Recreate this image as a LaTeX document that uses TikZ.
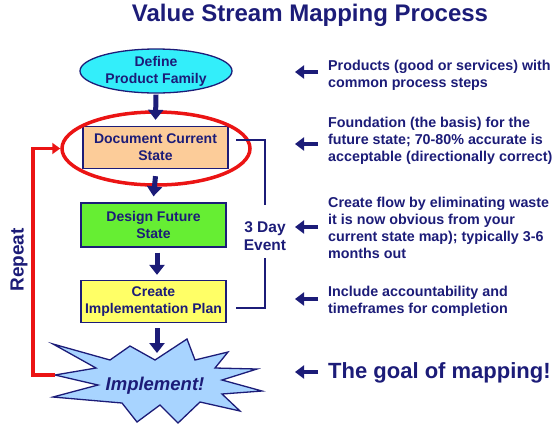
\documentclass[tikz,border=0pt]{standalone}
\usepackage{fontspec}
\setmainfont{Liberation Sans}
\usetikzlibrary{arrows.meta,shapes.geometric}
\definecolor{navy}{RGB}{28,28,120}
\definecolor{cyanfill}{RGB}{51,238,250}
\definecolor{peach}{RGB}{252,204,153}
\definecolor{greenfill}{RGB}{102,238,51}
\definecolor{yellowfill}{RGB}{255,255,102}
\definecolor{burstfill}{RGB}{168,212,255}
\definecolor{redline}{RGB}{235,20,20}
\begin{document}
\begin{tikzpicture}[x=1pt,y=-1pt,
  txt/.style={text=navy,font=\bfseries\fontsize{14}{17}\selectfont},
  stepbox/.style={draw=navy,line width=1.3pt,minimum width=145pt,minimum height=42pt,align=center,inner sep=0pt,txt},
  blockarrow/.style={navy,line width=5pt,-{Triangle[length=10pt,width=15pt]}},
  sidearrow/.style={navy,line width=4.5pt,-{Triangle[length=9pt,width=13pt]}},
  note/.style={text=navy,font=\bfseries\fontsize{14.3}{17}\selectfont,anchor=west,align=left,inner sep=0pt},
  bracket/.style={navy,line width=1.5pt},
  repeatline/.style={redline,line width=3.5pt,-{Triangle[length=8pt,width=11pt]}}
]
\useasboundingbox (0,0) rectangle (553,424);

% title
\node[text=navy,font=\bfseries\fontsize{24}{28}\selectfont] (title) at (310,15) {Value Stream Mapping Process};

% flow
\node[ellipse,draw=navy,line width=1.3pt,fill=cyanfill,minimum width=152pt,minimum height=44pt,inner sep=0pt,align=center,txt] (define) at (156,71) {Define\\Product Family};
\node[stepbox,fill=peach] (doc) at (155.5,147.5) {Document Current\\State};
\node[ellipse,draw=redline,line width=3.5pt,minimum width=188pt,minimum height=73pt,inner sep=0pt] (redell) at (156,148.5) {};
\node[stepbox,fill=greenfill,minimum height=44pt] (design) at (153.5,225) {Design Future\\State};
\node[stepbox,fill=yellowfill] (plan) at (153.5,301.5) {Create\\Implementation Plan};

% starburst
\draw[draw=navy,line width=1.3pt,fill=burstfill,line join=miter]
  (53,344) -- (110,360) -- (130,346) -- (155,360) -- (187,339) -- (195,360)
  -- (228,352) -- (215,368) -- (257,369) -- (222,380) -- (262,391) -- (222,394)
  -- (240,411) -- (200,402) -- (178,423) -- (160,405) -- (137,422) -- (122,403)
  -- (53,397) -- (98,385) -- (55,375) -- (96,368) -- cycle;
\coordinate (dip) at (155,353);
\coordinate (lefttip) at (55,375);
\node[text=navy,font=\bfseries\itshape\fontsize{18.5}{20}\selectfont] (impl) at (155,386) {Implement!};

% down arrows
\draw[blockarrow] ([yshift=-1pt]define.south) -- ([yshift=6pt]doc.north);
\draw[blockarrow] ([yshift=-7pt]doc.south) -- ([yshift=6pt]design.north);
\draw[blockarrow] ([xshift=3.5pt,yshift=-5pt]design.south) -- ([xshift=3.5pt,yshift=5pt]plan.north);
\draw[blockarrow] ([xshift=3.5pt,yshift=-5pt]plan.south) -- ([xshift=2pt]dip);

% repeat loop
\draw[repeatline] (lefttip) -- ++(-22,0) |- (redell.west);
\node[text=navy,font=\bfseries\fontsize{19}{22}\selectfont,rotate=90] (rep) at (19,260) {Repeat};

% 3 day event bracket
\coordinate (b1) at (236,140);
\coordinate (b2) at (265,140);
\coordinate (b3) at (265,205);
\coordinate (b4) at (265,258);
\coordinate (b5) at (265,308);
\coordinate (b6) at (236,308);
\draw[bracket] (b1) -- (b2) -- (b3);
\draw[bracket] (b4) -- (b5) -- (b6);
\node[text=navy,font=\bfseries\fontsize{15.5}{18}\selectfont,align=center,inner sep=0pt] (event) at (265,236) {3 Day\\Event};

% notes
\node[note] (n1) at (328,75.5) {Products (good or services) with\\common process steps};
\node[note] (n2) at (328,140.5) {Foundation (the basis) for the\\future state; 70-80\% accurate is\\acceptable (directionally correct)};
\node[note] (n3) at (328,227.5) {Create flow by eliminating waste\\it is now obvious from your\\current state map); typically 3-6\\months out};
\node[note] (n4) at (328,301) {Include accountability and\\timeframes for completion};
\node[note,font=\bfseries\fontsize{22}{26}\selectfont] (n5) at (328,373) {The goal of mapping!};

\coordinate (a1) at (318,72);
\coordinate (a2) at (318,144);
\coordinate (a3) at (318,227);
\coordinate (a4) at (318,299);
\coordinate (a5) at (318,372);
\foreach \a in {a1,a2,a3,a4,a5} \draw[sidearrow] (\a) -- ++(-23,0);
\end{tikzpicture}
\end{document}
